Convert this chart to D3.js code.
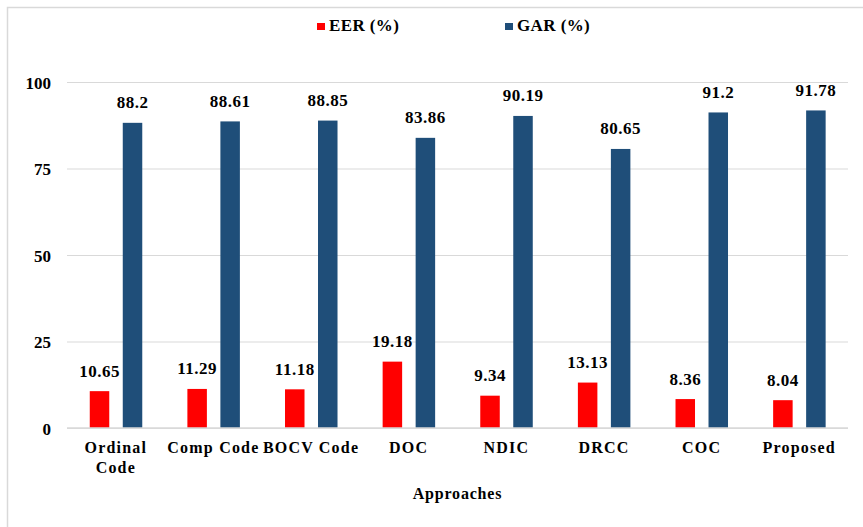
<!DOCTYPE html>
<html>
<head>
<meta charset="utf-8">
<script src="https://cdn.jsdelivr.net/npm/d3@7"></script>
<style>
  html, body { margin: 0; padding: 0; background: #fff; }
  svg { display: block; }
  text { font-family: "Liberation Serif", "Times New Roman", serif; font-weight: bold; fill: #000; }
</style>
</head>
<body>
<svg id="chart" width="863" height="527"></svg>
<script>
// Approaches compared and their error / acceptance rates
const categories = ["Ordinal Code", "Comp Code", "BOCV Code", "DOC", "NDIC", "DRCC", "COC", "Proposed"];
const eerValues = [10.65, 11.29, 11.18, 19.18, 9.34, 13.13, 8.36, 8.04];
const garValues = [88.2, 88.61, 88.85, 83.86, 90.19, 80.65, 91.2, 91.78];
const seriesNames = ["EER (%)", "GAR (%)"];
const seriesColors = ["#FF0000", "#1F4E79"];
const yTicks = [0, 25, 50, 75, 100];
const xTitle = "Approaches";

const svg = d3.select("#chart");
const W = 863, H = 527;
const margin = { left: 67, right: 15, top: 82, bottom: 99 };

// outer chart frame
svg.append("rect")
  .attr("x", 7.5).attr("y", 7.5)
  .attr("width", W + 20).attr("height", H + 20)
  .attr("fill", "none").attr("stroke", "#d9d9d9").attr("stroke-width", 1.5);

const x = d3.scaleBand().domain(categories).range([margin.left, W - margin.right]).paddingInner(0).paddingOuter(0);
const y = d3.scaleLinear().domain([0, 100]).range([H - margin.bottom, margin.top]);

// gridlines
const grid = svg.append("g")
  .attr("transform", `translate(${margin.left},0)`)
  .call(d3.axisLeft(y).tickValues(yTicks).tickSize(-(W - margin.right - margin.left)).tickFormat(""));
grid.select(".domain").remove();
grid.selectAll("line").attr("stroke", "#d9d9d9").attr("stroke-width", 1.2);

// y tick labels
const yAxis = svg.append("g")
  .attr("transform", `translate(${margin.left},0)`)
  .call(d3.axisLeft(y).tickValues(yTicks).tickSize(0).tickPadding(16));
yAxis.select(".domain").remove();
yAxis.selectAll("text")
  .attr("font-size", 17)
  .attr("dy", "0.36em")
  .style("font-family", '"Liberation Serif", serif')
  .style("font-weight", "bold");

const series = [eerValues, garValues];
const barW = 19.5;
const offsets = [-16.3, 16.7];

series.forEach((vals, si) => {
  const g = svg.append("g");
  g.selectAll("rect").data(vals).enter().append("rect")
    .attr("x", (d, i) => x(categories[i]) + x.bandwidth() / 2 + offsets[si] - barW / 2)
    .attr("y", d => y(d))
    .attr("width", barW)
    .attr("height", d => y(0) - y(d))
    .attr("fill", seriesColors[si]);
  g.selectAll("text").data(vals).enter().append("text")
    .attr("x", (d, i) => x(categories[i]) + x.bandwidth() / 2 + offsets[si])
    .attr("y", d => y(d) - 14.5)
    .attr("text-anchor", "middle")
    .attr("font-size", 17)
    .attr("letter-spacing", 0.5)
    .text(d => d);
});

// baseline
svg.append("line")
  .attr("x1", margin.left).attr("x2", W - margin.right)
  .attr("y1", y(0)).attr("y2", y(0))
  .attr("stroke", "#d9d9d9").attr("stroke-width", 1.5);

// category labels, wrapped at band width
const catLines = { "Ordinal Code": ["Ordinal", "Code"] };
categories.forEach(c => {
  const lines = catLines[c] || [c];
  const cx = x(c) + x.bandwidth() / 2;
  const t = svg.append("text")
    .attr("x", cx)
    .attr("y", y(0) + 25)
    .attr("text-anchor", "middle")
    .attr("font-size", 16)
    .attr("letter-spacing", 1.2);
  lines.forEach((ln, k) => {
    t.append("tspan").attr("x", cx).attr("dy", k === 0 ? 0 : 20).text(ln);
  });
});

// x axis title
svg.append("text")
  .attr("x", (margin.left + W - margin.right) / 2)
  .attr("y", 499)
  .attr("text-anchor", "middle")
  .attr("font-size", 16)
  .attr("letter-spacing", 0.8)
  .text(xTitle);

// legend
const legendX = [317, 505];
seriesNames.forEach((n, i) => {
  svg.append("rect").attr("x", legendX[i]).attr("y", 23).attr("width", 8).attr("height", 7).attr("fill", seriesColors[i]);
  svg.append("text").attr("x", legendX[i] + 12).attr("y", 31).attr("font-size", 17).attr("letter-spacing", 0.4).text(n);
});
</script>
</body>
</html>
